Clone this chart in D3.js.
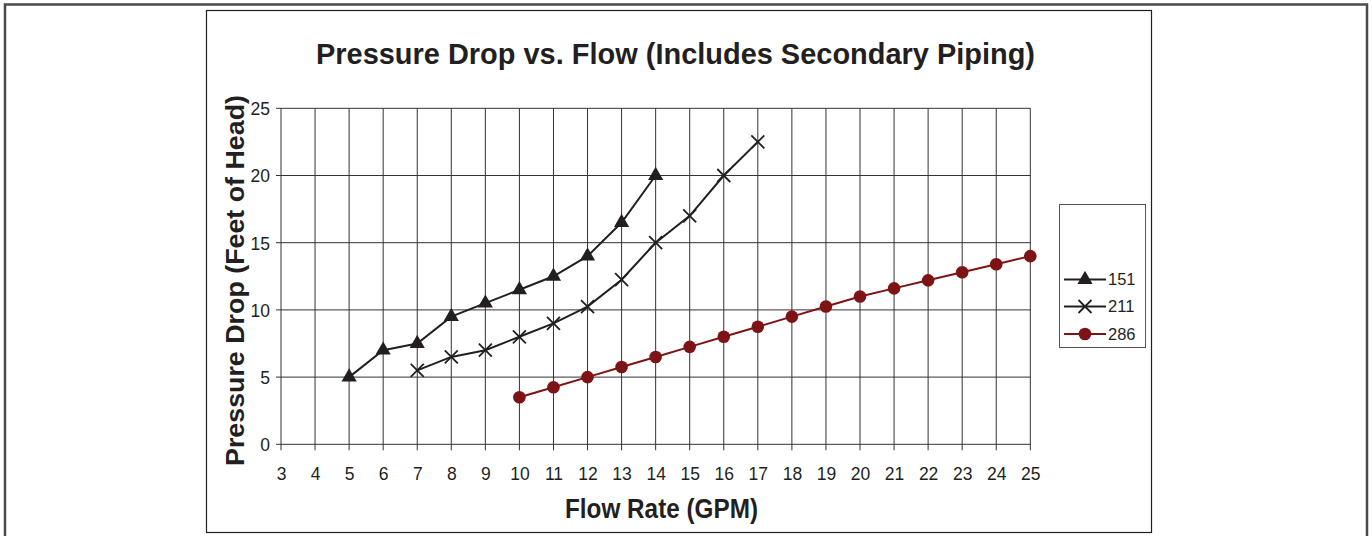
<!DOCTYPE html>
<html>
<head>
<meta charset="utf-8">
<script src="https://cdn.jsdelivr.net/npm/d3@7/dist/d3.min.js"></script>
<style>
  html, body { margin: 0; padding: 0; background: #fff; }
  svg { display: block; }
  text { font-family: "Liberation Sans", Arial, sans-serif; fill: #231f20; }
</style>
</head>
<body>
<svg id="chart" width="1372" height="536"></svg>
<script>
// ---- Data ----
const xTicks = [3,4,5,6,7,8,9,10,11,12,13,14,15,16,17,18,19,20,21,22,23,24,25];
const yTicks = [0,5,10,15,20,25];

const flow151 = [5,6,7,8,9,10,11,12,13,14];
const drop151 = [5,7,7.5,9.5,10.5,11.5,12.5,14,16.5,20];

const flow211 = [7,8,9,10,11,12,13,14,15,16,17];
const drop211 = [5.5,6.5,7,8,9,10.25,12.25,15,17,20,22.5];

const flow286 = [10,11,12,13,14,15,16,17,18,19,20,21,22,23,24,25];
const drop286 = [3.5,4.25,5,5.75,6.5,7.25,8,8.75,9.5,10.25,11,11.6,12.2,12.8,13.4,14];

const seriesNames = ["151","211","286"];

// ---- Layout ----
const svg = d3.select("#chart");
const ink = "#231f20";
const red = "#7d1315";

// outer frame
svg.append("rect").attr("x",5).attr("y",4.5).attr("width",1362).attr("height",545)
  .attr("fill","none").attr("stroke","#4a4a4a").attr("stroke-width",2.5);
// inner chart frame
svg.append("rect").attr("x",206.5).attr("y",10.5).attr("width",945).attr("height",522)
  .attr("fill","none").attr("stroke",ink).attr("stroke-width",1.2);

const x = d3.scaleLinear().domain([3,25]).range([281,1030.3]);
const y = d3.scaleLinear().domain([0,25]).range([444.3,108.3]);

const g = svg.append("g");

// vertical grid lines
g.selectAll("line.vg").data(xTicks).join("line")
  .attr("x1",d=>x(d)).attr("x2",d=>x(d))
  .attr("y1",y(25)).attr("y2",y(0)+6)
  .attr("stroke","#333").attr("stroke-width",1);
// horizontal grid lines
g.selectAll("line.hg").data(yTicks).join("line")
  .attr("x1",x(3)-5).attr("x2",x(25))
  .attr("y1",d=>y(d)).attr("y2",d=>y(d))
  .attr("stroke","#333").attr("stroke-width",1);

// axes labels via d3 axes (domain hidden, ticks drawn above)
const xAxis = d3.axisBottom(x).tickValues(xTicks).tickSize(0).tickPadding(0).tickFormat(d3.format("d"));
const yAxis = d3.axisLeft(y).tickValues(yTicks).tickSize(0).tickPadding(0).tickFormat(d3.format("d"));

const gx = svg.append("g").attr("transform",`translate(0,${y(0)})`).call(xAxis);
gx.select(".domain").remove();
gx.selectAll("text").attr("y",35.5).attr("dy",0).style("font-size","17.5px")
  .style("font-family","'Liberation Sans', Arial, sans-serif").attr("fill",ink);

const gy = svg.append("g").attr("transform",`translate(${x(3)},0)`).call(yAxis);
gy.select(".domain").remove();
gy.selectAll("text").attr("x",-11).attr("dy","0.36em").style("font-size","17.5px")
  .style("font-family","'Liberation Sans', Arial, sans-serif").attr("fill",ink);

// titles
svg.append("text").attr("x",675.5).attr("y",64).attr("text-anchor","middle")
  .style("font-size","29px").style("font-weight","bold")
  .attr("textLength",719).attr("lengthAdjust","spacingAndGlyphs")
  .text("Pressure Drop vs. Flow (Includes Secondary Piping)");

svg.append("text").attr("x",661.5).attr("y",518).attr("text-anchor","middle")
  .style("font-size","27px").style("font-weight","bold")
  .attr("textLength",193).attr("lengthAdjust","spacingAndGlyphs")
  .text("Flow Rate (GPM)");

svg.append("text").attr("transform","translate(244,280.5) rotate(-90)").attr("text-anchor","middle")
  .style("font-size","26.5px").style("font-weight","bold")
  .attr("textLength",371).attr("lengthAdjust","spacingAndGlyphs")
  .text("Pressure Drop (Feet of Head)");

// ---- Series ----
const line = d3.line().x(d=>x(d[0])).y(d=>y(d[1]));
const s151 = flow151.map((f,i)=>[f,drop151[i]]);
const s211 = flow211.map((f,i)=>[f,drop211[i]]);
const s286 = flow286.map((f,i)=>[f,drop286[i]]);

svg.append("path").datum(s151).attr("d",line).attr("fill","none").attr("stroke",ink).attr("stroke-width",2);
svg.append("path").datum(s211).attr("d",line).attr("fill","none").attr("stroke",ink).attr("stroke-width",2);
svg.append("path").datum(s286).attr("d",line).attr("fill","none").attr("stroke",red).attr("stroke-width",2);

const tri = d3.symbol(d3.symbolTriangle, 100);
function drawTri(sel, px, py){
  sel.append("path").attr("d",tri()).attr("transform",`translate(${px},${py})`).attr("fill",ink);
}
function drawCross(sel, px, py){
  const r = 6.5;
  sel.append("path").attr("d",`M${px-r},${py-r}L${px+r},${py+r}M${px-r},${py+r}L${px+r},${py-r}`)
    .attr("stroke",ink).attr("stroke-width",1.8).attr("fill","none");
}
function drawDot(sel, px, py){
  sel.append("circle").attr("cx",px).attr("cy",py).attr("r",6.3).attr("fill",red);
}

const m = svg.append("g");
s151.forEach(d=>drawTri(m, x(d[0]), y(d[1])));
s211.forEach(d=>drawCross(m, x(d[0]), y(d[1])));
s286.forEach(d=>drawDot(m, x(d[0]), y(d[1])));

// ---- Legend ----
const lg = svg.append("g");
lg.append("rect").attr("x",1059.5).attr("y",204.5).attr("width",86).attr("height",143)
  .attr("fill","#fff").attr("stroke","#555").attr("stroke-width",1);
const legY = [279.5, 306.5, 334];
const legColor = [ink, ink, red];
const drawers = [drawTri, drawCross, drawDot];
seriesNames.forEach((name,i)=>{
  lg.append("line").attr("x1",1064).attr("x2",1106).attr("y1",legY[i]).attr("y2",legY[i])
    .attr("stroke",legColor[i]).attr("stroke-width",2);
  drawers[i](lg, 1085, legY[i]);
  lg.append("text").attr("x",1108).attr("y",legY[i]).attr("dy","0.36em")
    .style("font-size","16.5px").text(name);
});
</script>
</body>
</html>
